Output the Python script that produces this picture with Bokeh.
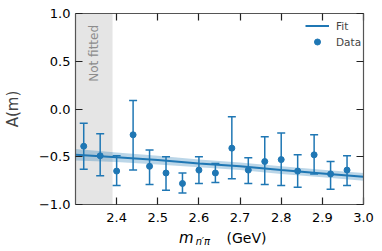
import math
from bokeh.plotting import figure
from bokeh.models import (Range1d, FixedTicker, CustomJSTickFormatter, LinearAxis, BoxAnnotation,
                          Label, Legend, LegendItem, Whisker, TeeHead, ColumnDataSource)
from bokeh.embed import file_html
from bokeh.resources import INLINE

# ---- data ----
mass = [2.32, 2.36, 2.40, 2.44, 2.48, 2.52, 2.56, 2.60, 2.64, 2.68, 2.72, 2.76, 2.80, 2.84, 2.88, 2.92, 2.96]
amp = [-0.39, -0.49, -0.65, -0.27, -0.60, -0.67, -0.78, -0.64, -0.67, -0.41, -0.64, -0.55, -0.53, -0.65, -0.48, -0.68, -0.64]
amp_upper = [-0.15, -0.26, -0.49, 0.09, -0.43, -0.50, -0.67, -0.50, -0.57, -0.08, -0.51, -0.29, -0.25, -0.48, -0.27, -0.55, -0.49]
amp_lower = [-0.63, -0.70, -0.80, -0.64, -0.79, -0.85, -0.88, -0.78, -0.77, -0.73, -0.78, -0.79, -0.80, -0.82, -0.68, -0.84, -0.80]

fit_m = [2.3, 2.4, 2.5, 2.6, 2.7, 2.8, 2.9, 3.0]
fit_A = [-0.48, -0.505, -0.535, -0.57, -0.60, -0.64, -0.675, -0.71]
fit_lo = [-0.54, -0.555, -0.58, -0.61, -0.64, -0.68, -0.715, -0.75]
fit_hi = [-0.42, -0.455, -0.49, -0.53, -0.56, -0.60, -0.635, -0.67]

not_fitted_end = 2.39
x_ticks = [2.4, 2.5, 2.6, 2.7, 2.8, 2.9, 3.0]
y_ticks = [-1.0, -0.5, 0.0, 0.5, 1.0]

BLUE = "#1f77b4"
FONT = "DejaVu Sans"

p = figure(width=382, height=245, output_backend="svg", toolbar_location=None,
           x_range=Range1d(2.3, 3.0), y_range=Range1d(-1.0, 1.0),
           min_border_left=66, min_border_right=19, min_border_top=13, min_border_bottom=41)
p.xgrid.visible = False
p.ygrid.visible = False
p.outline_line_color = None
p.background_fill_color = "white"

fmt = CustomJSTickFormatter(code="return tick.toFixed(1).replace('-', '\\u2212');")
blank = CustomJSTickFormatter(code="return '';")

def style_axis(ax, labels=True):
    ax.axis_line_color = "#555555"
    ax.axis_line_width = 1.2
    ax.major_tick_in = 7
    ax.major_tick_out = 0
    ax.minor_tick_in = 0
    ax.minor_tick_out = 0
    ax.major_tick_line_color = "#222222"
    ax.major_tick_line_width = 1.2
    ax.major_label_text_font = FONT
    ax.major_label_text_font_size = "13px"
    ax.major_label_text_color = "black"
    ax.formatter = fmt if labels else blank

p.xaxis.ticker = FixedTicker(ticks=x_ticks)
p.yaxis.ticker = FixedTicker(ticks=y_ticks)
style_axis(p.xaxis[0]); style_axis(p.yaxis[0])
p.xaxis.major_label_standoff = 8
p.yaxis.major_label_standoff = 5
p.yaxis.axis_label = "A(m)"
p.yaxis.axis_label_text_font = FONT
p.yaxis.axis_label_text_font_style = "normal"
p.yaxis.axis_label_text_font_size = "15px"
p.yaxis.axis_label_standoff = 14

top_ax = LinearAxis(ticker=FixedTicker(ticks=x_ticks))
right_ax = LinearAxis(ticker=FixedTicker(ticks=y_ticks))
style_axis(top_ax, False); style_axis(right_ax, False)
for ax in (top_ax, right_ax):
    ax.major_label_text_font_size = "1px"
    ax.major_label_standoff = 0
p.add_layout(top_ax, "above")
p.add_layout(right_ax, "right")

# not fitted region
p.add_layout(BoxAnnotation(left=2.3, right=not_fitted_end, fill_color="#e5e5e5", fill_alpha=1.0,
                           line_color=None, level="underlay"))
p.add_layout(Label(x=2.344, y=0.88, text="Not fitted", angle=math.pi / 2, text_align="right",
                   text_baseline="middle", text_font=FONT, text_font_size="12px", text_color="#8c8c8c"))

# fit band and line
band = p.varea(x=fit_m, y1=fit_lo, y2=fit_hi, fill_color=BLUE, fill_alpha=0.3)
fit_line = p.line(fit_m, fit_A, line_color=BLUE, line_width=2)

# data with error bars
src = ColumnDataSource(dict(m=mass, a=amp, up=amp_upper, lo=amp_lower))
p.add_layout(Whisker(source=src, base="m", upper="up", lower="lo", line_color=BLUE, line_width=1.5,
                     upper_head=TeeHead(size=8, line_color=BLUE, line_width=1.5),
                     lower_head=TeeHead(size=8, line_color=BLUE, line_width=1.5)))
pts = p.scatter("m", "a", source=src, size=6, color=BLUE)

legend = Legend(items=[LegendItem(label="Fit", renderers=[fit_line]),
                       LegendItem(label="Data", renderers=[pts])],
                location=(230, 155), border_line_color=None, background_fill_alpha=0.0,
                label_text_font=FONT, label_text_font_size="10.5px", glyph_width=24, glyph_height=15,
                label_standoff=7, spacing=1, padding=0, margin=0, label_height=15)
p.add_layout(legend)

# x axis title pieces: side-panel labels are not clipped to the frame
p.add_layout(Label(x=2.5514, y=-1.356, text="m", text_font=FONT, text_font_style="italic",
                   text_font_size="15px", text_baseline="alphabetic", text_color="black"), "right")
p.add_layout(Label(x=2.5915, y=-1.387, text="\u03b7\u2032\u03c0", text_font=FONT, text_font_style="italic",
                   text_font_size="10px", text_baseline="alphabetic", text_color="black"), "above")
p.add_layout(Label(x=2.6671, y=-1.356, text="(GeV)", text_font=FONT,
                   text_font_size="14px", text_baseline="alphabetic", text_color="black"), "below")

open("out.html", "w").write(file_html(p, INLINE))
